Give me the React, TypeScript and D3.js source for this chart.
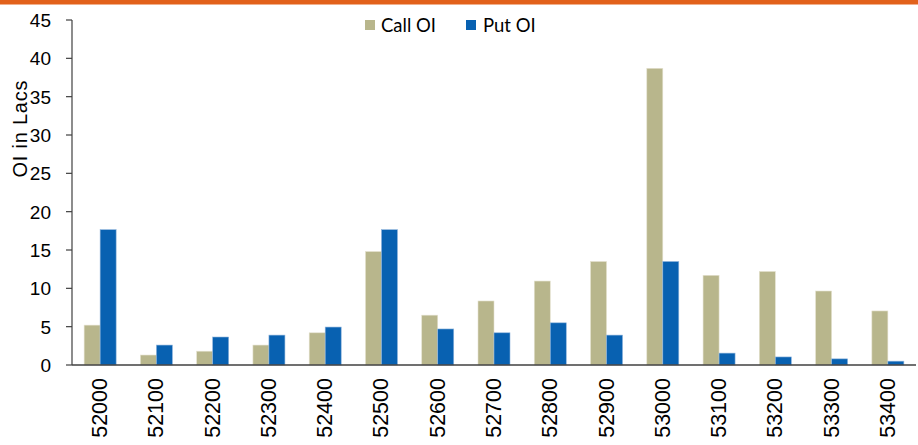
import React from 'react';
import * as d3 from 'd3';

const strikes = ['52000', '52100', '52200', '52300', '52400', '52500', '52600', '52700', '52800', '52900', '53000', '53100', '53200', '53300', '53400'];
const callOI = [5.2, 1.3, 1.8, 2.6, 4.2, 14.8, 6.5, 8.35, 10.95, 13.5, 38.7, 11.7, 12.2, 9.65, 7.05];
const putOI = [17.65, 2.6, 3.65, 3.9, 4.95, 17.65, 4.7, 4.2, 5.5, 3.9, 13.5, 1.55, 1.05, 0.8, 0.5];
const yTicks = [0, 5, 10, 15, 20, 25, 30, 35, 40, 45];

const W = 918;
const H = 445;
const margin = { top: 20, right: 2, bottom: 80, left: 72 };

const CALL = '#b8b68c';
const PUT = '#0861b1';

const App = () => {
  const x = d3.scaleBand().domain(strikes).range([margin.left, W - margin.right]);
  const y = d3.scaleLinear().domain([0, 45]).range([H - margin.bottom, margin.top]);
  const barW = 16;

  return (
    <svg width={W} height={H} style={{ position: 'absolute', left: 0, top: 0, background: '#fff' }}>
      <rect x={0} y={0} width={W} height={4.5} fill="#e2611b" />

      {/* y axis */}
      <line x1={margin.left} x2={margin.left} y1={y(45)} y2={y(0)} stroke="#404040" strokeWidth={1.2} />
      {yTicks.map((t) => (
        <g key={t}>
          <line x1={margin.left - 6} x2={margin.left} y1={y(t)} y2={y(t)} stroke="#404040" strokeWidth={1.2} />
          <text x={51} y={y(t)} dy="0.36em" textAnchor="end" fontFamily="Liberation Sans, Arial" fontSize={19} fill="#000">
            {t}
          </text>
        </g>
      ))}
      <text
        transform="translate(27,129) rotate(-90)"
        textAnchor="middle"
        fontFamily="Liberation Sans, Arial"
        fontSize={20}
        textLength={97}
        lengthAdjust="spacing"
        fill="#000"
      >
        OI in Lacs
      </text>

      {/* bars */}
      {strikes.map((s, i) => {
        const c = x(s)! + x.bandwidth() / 2;
        return (
          <g key={s}>
            <rect x={c - barW} y={y(callOI[i])} width={barW} height={y(0) - y(callOI[i])} fill={CALL} stroke="#e4e2cf" strokeWidth={0.6} />
            <rect x={c} y={y(putOI[i])} width={barW} height={y(0) - y(putOI[i])} fill={PUT} stroke="#8fb4dc" strokeWidth={0.6} />
            <text
              transform={`translate(${c + 7},${y(0) + 13}) rotate(-90)`}
              textAnchor="end"
              fontFamily="Liberation Sans, Arial"
              fontSize={21.5}
              fill="#000"
            >
              {s}
            </text>
          </g>
        );
      })}

      {/* x axis */}
      <line x1={margin.left} x2={W - margin.right} y1={y(0)} y2={y(0)} stroke="#404040" strokeWidth={1.5} />

      {/* legend */}
      <rect x={365} y={20} width={10} height={10} fill={CALL} />
      <text x={381} y={25} dy="0.36em" fontFamily="Lato, Noto Sans" fontSize={18.5} fill="#000">
        Call OI
      </text>
      <rect x={466} y={20} width={10} height={10} fill={PUT} />
      <text x={483} y={25} dy="0.36em" fontFamily="Lato, Noto Sans" fontSize={18.5} fill="#000">
        Put OI
      </text>
    </svg>
  );
};

export default App;
